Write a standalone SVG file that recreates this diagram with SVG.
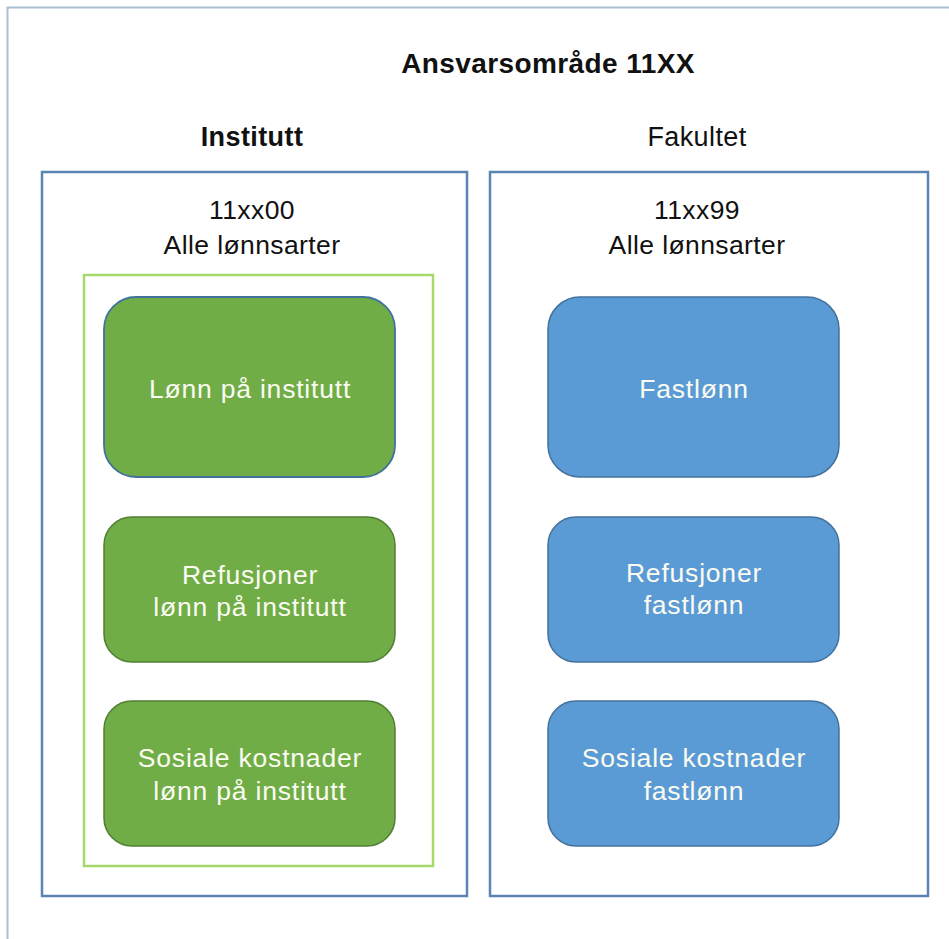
<svg xmlns="http://www.w3.org/2000/svg" width="949" height="939" viewBox="0 0 949 939">
<style>
.t{font-family:"Liberation Sans",Arial,sans-serif;fill:#111;text-anchor:middle;letter-spacing:0.4px}
.b{font-weight:bold}
.w{font-family:"Liberation Sans",Arial,sans-serif;fill:#fbfbf2;text-anchor:middle;font-size:26.5px;letter-spacing:0.8px}
.panel{fill:#fff;stroke:#5a84b4;stroke-width:2.5}
.g{fill:#70ad47;stroke:#507e32;stroke-width:1.5}
.bl{fill:#5b9bd5;stroke:#41719c;stroke-width:1.5}
</style>
<rect width="949" height="939" fill="#fff"/>
<path d="M7.5 960 V7.5 H960" fill="none" stroke="#a9bfd4" stroke-width="2"/>
<text class="t b" x="548" y="73" font-size="28">Ansvarsområde 11XX</text>
<text class="t b" x="252" y="146" font-size="27">Institutt</text>
<text class="t" x="697" y="146" font-size="27">Fakultet</text>
<g id="institutt">
<rect class="panel" x="42" y="172" width="425" height="724"/>
<text class="t" x="252" y="219" font-size="26.5">11xx00</text>
<text class="t" x="252" y="254" font-size="26.5">Alle lønnsarter</text>
<rect x="84" y="275" width="349" height="591" fill="none" stroke="#a6d96a" stroke-width="2.5"/>
</g>
<g id="fakultet">
<rect class="panel" x="490" y="172" width="438" height="724"/>
<text class="t" x="697" y="219" font-size="26.5">11xx99</text>
<text class="t" x="697" y="254" font-size="26.5">Alle lønnsarter</text>
</g>
<g id="lonn-institutt">
<rect x="104" y="297" width="291" height="180" rx="32" fill="#70ad47" stroke="#41719c" stroke-width="1.8"/>
<text class="w" x="250" y="398">Lønn på institutt</text>
</g>
<g id="refusjoner-institutt">
<rect class="g" x="104" y="517" width="291" height="145" rx="28"/>
<text class="w" x="250" y="584">Refusjoner</text>
<text class="w" x="250" y="616">lønn på institutt</text>
</g>
<g id="sosiale-institutt">
<rect class="g" x="104" y="701" width="291" height="145" rx="28"/>
<text class="w" x="250" y="767">Sosiale kostnader</text>
<text class="w" x="250" y="800">lønn på institutt</text>
</g>
<g id="fastlonn">
<rect class="bl" x="548" y="297" width="291" height="180" rx="32"/>
<text class="w" x="694" y="398">Fastlønn</text>
</g>
<g id="refusjoner-fastlonn">
<rect class="bl" x="548" y="517" width="291" height="145" rx="28"/>
<text class="w" x="694" y="582">Refusjoner</text>
<text class="w" x="694" y="614">fastlønn</text>
</g>
<g id="sosiale-fastlonn">
<rect class="bl" x="548" y="701" width="291" height="145" rx="28"/>
<text class="w" x="694" y="767">Sosiale kostnader</text>
<text class="w" x="694" y="800">fastlønn</text>
</g>
<g id="connectors"/>
</svg>
